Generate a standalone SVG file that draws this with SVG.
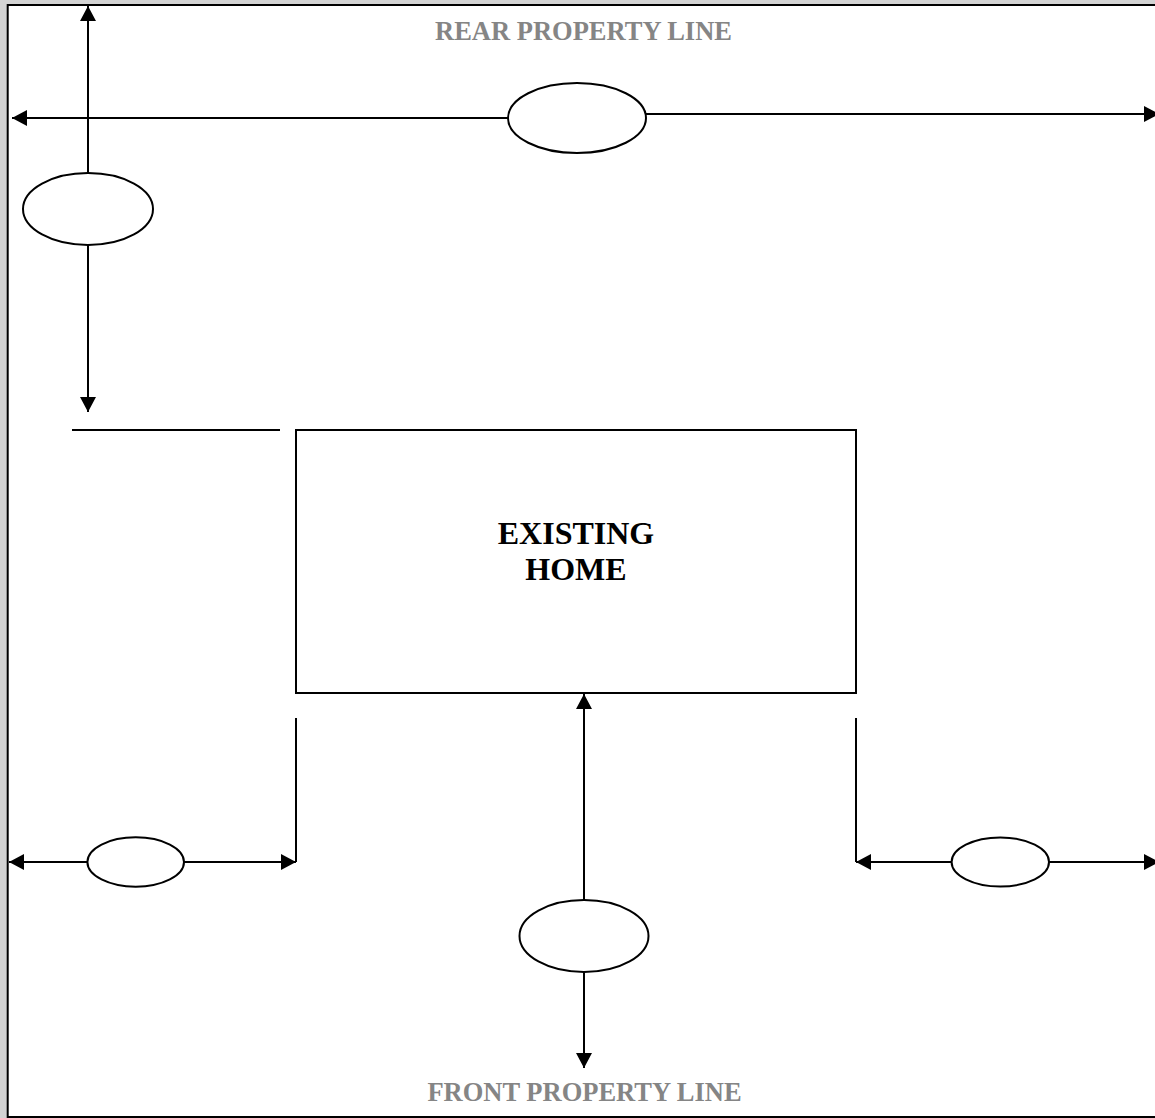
<svg xmlns="http://www.w3.org/2000/svg" width="1155" height="1118" viewBox="0 0 1155 1118">
  <style>
    .ln { stroke: #000; stroke-width: 2; fill: none; }
    .arr { marker-end: url(#ah); }
    .ell { fill: #fff; stroke: #000; stroke-width: 2; }
    .lbl { font-family: "Liberation Serif", "Times New Roman", serif; font-weight: bold; text-anchor: middle; }
    .gray { fill: #858585; font-size: 26.5px; }
    .home { fill: #000; font-size: 32px; }
  </style>
  <defs>
    <marker id="ah" markerUnits="userSpaceOnUse" markerWidth="16" markerHeight="16" refX="15" refY="8" orient="auto">
      <path d="M0,0 L15,8 L0,16 Z" fill="#000"/>
    </marker>
  </defs>
  <rect x="0" y="0" width="1155" height="1118" fill="#d3d3d3"/>
  <rect id="page" x="7.7" y="5" width="1160" height="1112" fill="#fff" stroke="#000" stroke-width="2"/>

  <g id="labels">
    <text class="lbl gray" x="583.5" y="40">REAR PROPERTY LINE</text>
    <text class="lbl gray" x="584.5" y="1101">FRONT PROPERTY LINE</text>
  </g>

  <g id="connectors">
    <line class="ln arr" x1="88" y1="173" x2="88" y2="6"/>
    <line class="ln arr" x1="88" y1="245" x2="88" y2="412"/>
    <line class="ln arr" x1="509" y1="118" x2="12" y2="118"/>
    <line class="ln arr" x1="646" y1="114" x2="1159" y2="114"/>
    <line class="ln" x1="72" y1="430" x2="280" y2="430"/>
    <line class="ln arr" x1="584" y1="900" x2="584" y2="694"/>
    <line class="ln arr" x1="584" y1="972" x2="584" y2="1068"/>
    <line class="ln" x1="296" y1="718" x2="296" y2="862"/>
    <line class="ln arr" x1="88" y1="862" x2="9" y2="862"/>
    <line class="ln arr" x1="184" y1="862" x2="296" y2="862"/>
    <line class="ln" x1="856" y1="718" x2="856" y2="862"/>
    <line class="ln arr" x1="952" y1="862" x2="856" y2="862"/>
    <line class="ln arr" x1="1049" y1="862" x2="1159" y2="862"/>
  </g>

  <g id="home">
    <rect x="296" y="430" width="560" height="263" fill="none" stroke="#000" stroke-width="2"/>
    <text class="lbl home" x="576" y="544">EXISTING</text>
    <text class="lbl home" x="576" y="580">HOME</text>
  </g>

  <g id="rear-setback"><ellipse class="ell" cx="577" cy="118" rx="69" ry="35"/></g>
  <g id="side-setback-top"><ellipse class="ell" cx="88" cy="209" rx="65" ry="36"/></g>
  <g id="front-setback"><ellipse class="ell" cx="584" cy="936" rx="64.5" ry="36"/></g>
  <g id="left-setback"><ellipse class="ell" cx="135.7" cy="862" rx="48.3" ry="24.7"/></g>
  <g id="right-setback"><ellipse class="ell" cx="1000.3" cy="862" rx="48.7" ry="24.5"/></g>
</svg>
